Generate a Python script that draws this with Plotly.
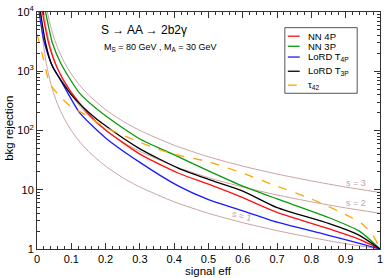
import plotly.graph_objects as go

# ---------------- data ----------------
nn4p_eff = [0.0156, 0.035, 0.06, 0.095, 0.15, 0.2, 0.3, 0.413, 0.5, 0.6, 0.7, 0.85, 0.94, 1.0]
nn4p_rej = [10000, 2800, 1100, 487, 190, 102, 40, 19, 12.4, 7.35, 4.15, 2.2, 1.45, 1.0]

nn3p_eff = [0.025, 0.045, 0.07, 0.124, 0.2, 0.3, 0.393, 0.5, 0.6, 0.7, 0.85, 0.94, 1.0]
nn3p_rej = [10000, 3000, 1340, 428, 177, 72, 40.6, 20.8, 11.5, 7.0, 3.4, 2.0, 1.0]

lord4p_eff = [0.006, 0.02, 0.042, 0.074, 0.124, 0.2, 0.3, 0.413, 0.5, 0.6, 0.7, 0.85, 0.94, 1.0]
lord4p_rej = [10000, 3300, 1340, 626, 200, 75, 29, 11.5, 6.8, 4.4, 2.83, 1.7, 1.25, 1.0]

lord3p_eff = [0.01, 0.025, 0.045, 0.103, 0.152, 0.2, 0.3, 0.413, 0.5, 0.6, 0.7, 0.85, 0.94, 1.0]
lord3p_rej = [10000, 3000, 1200, 385, 200, 120, 49, 23, 15, 9.5, 5.0, 2.7, 1.7, 1.0]

tau42_eff = [0.0, 0.015, 0.037, 0.066, 0.103, 0.124, 0.2, 0.3, 0.393, 0.5, 0.6, 0.7, 0.8, 0.9, 0.95, 0.98, 1.0]
tau42_rej = [4200, 1970, 626, 380, 242, 210, 113, 63, 40.6, 29.7, 19, 11.5, 7.0, 3.8, 2.6, 1.7, 1.0]

s1_eff = [0.01, 0.012, 0.015, 0.02, 0.025, 0.03, 0.04, 0.05, 0.06, 0.08, 0.1, 0.12, 0.15, 0.2, 0.25, 0.3, 0.4, 0.5, 0.6, 0.7, 0.8, 0.9, 1.0]
s1_rej = [10000, 6944, 4444, 2500, 1600, 1111, 625, 400, 278, 156, 100, 69.4, 44.4, 25, 16, 11.1, 6.25, 4, 2.78, 2.04, 1.56, 1.23, 1.0]

s2_eff = [0.02, 0.025, 0.03, 0.04, 0.05, 0.06, 0.08, 0.1, 0.12, 0.15, 0.2, 0.25, 0.3, 0.4, 0.5, 0.6, 0.7, 0.8, 0.9, 1.0]
s2_rej = [10000, 6400, 4444, 2500, 1600, 1111, 625, 400, 278, 178, 100, 64, 44.4, 25, 16, 11.1, 8.16, 6.25, 4.94, 4.0]

s3_eff = [0.03, 0.04, 0.05, 0.06, 0.08, 0.1, 0.12, 0.15, 0.2, 0.25, 0.3, 0.4, 0.5, 0.6, 0.7, 0.8, 0.9, 1.0]
s3_rej = [10000, 5625, 3600, 2500, 1406, 900, 625, 400, 225, 144, 100, 56.25, 36, 25, 18.4, 14.1, 11.1, 9.0]

x_ticks = [0, 0.1, 0.2, 0.3, 0.4, 0.5, 0.6, 0.7, 0.8, 0.9, 1]
x_labels = ["0", "0.1", "0.2", "0.3", "0.4", "0.5", "0.6", "0.7", "0.8", "0.9", "1"]
y_ticks = [1, 10, 100, 1000, 10000]
y_labels = ["1", "10", "10<sup>2</sup>", "10<sup>3</sup>", "10<sup>4</sup>"]

legend_names = ["NN 4P", "NN 3P", "LoRD T<sub>4P</sub>", "LoRD T<sub>3P</sub>", "τ<sub>42</sub>"]
# ---------------------------------------------------------------

FONT = "Liberation Sans, Arial, sans-serif"
BROWN = "#c9a3a3"
RED = "#ff1010"
GREEN = "#0a9a0a"
BLUE = "#1a1aff"
BLACK = "#000000"
ORANGE = "#ffa500"

fig = go.Figure()

for ex, ry in [(s1_eff, s1_rej), (s2_eff, s2_rej), (s3_eff, s3_rej)]:
    fig.add_trace(go.Scatter(x=ex, y=ry, mode="lines", line=dict(color=BROWN, width=1, shape="spline", smoothing=0.6),
                             showlegend=False, hoverinfo="skip"))

series = [
    (nn4p_eff, nn4p_rej, RED, "solid"),
    (nn3p_eff, nn3p_rej, GREEN, "solid"),
    (lord4p_eff, lord4p_rej, BLUE, "solid"),
    (lord3p_eff, lord3p_rej, BLACK, "solid"),
    (tau42_eff, tau42_rej, ORANGE, "dash"),
]
for (ex, ry, col, dash), name in zip(series, legend_names):
    fig.add_trace(go.Scatter(x=ex, y=ry, mode="lines", name=name,
                             line=dict(color=col, width=1.3, dash=dash, shape="spline", smoothing=0.6),
                             showlegend=False))

# plot-area pixel helpers (plot area: x 37..383, y 7..249)
def px(xp):
    return (xp - 37) / 346.0

def py(yp):
    return (249 - yp) / 242.0

# manual legend
shapes = [dict(type="rect", xref="paper", yref="paper", x0=px(287), x1=px(360), y0=py(90), y1=py(23),
               line=dict(color="#555555", width=1), fillcolor="white", layer="above")]
annotations = []
leg_y = [31.7, 42.0, 53.0, 67.5, 81.7]
for (ex, ry, col, dash), name, yy in zip(series, legend_names, leg_y):
    shapes.append(dict(type="line", xref="paper", yref="paper", x0=px(290), x1=px(302), y0=py(yy), y1=py(yy),
                       line=dict(color=col, width=1.3, dash="dash" if dash == "dash" else "solid"), layer="above"))
    annotations.append(dict(xref="paper", yref="paper", x=px(308), y=py(yy), text=name, showarrow=False,
                            xanchor="left", yanchor="middle", font=dict(family=FONT, size=9.5, color="black")))

annotations += [
    dict(xref="paper", yref="paper", x=px(100), y=py(25), text="S → AA → 2b2γ", showarrow=False,
         xanchor="left", yanchor="middle", font=dict(family=FONT, size=12, color="black")),
    dict(xref="paper", yref="paper", x=px(103), y=py(43), text="M<sub>S</sub> = 80 GeV , M<sub>A</sub> = 30 GeV",
         showarrow=False, xanchor="left", yanchor="middle", font=dict(family=FONT, size=9, color="black")),
    dict(xref="paper", yref="paper", x=0.5, y=py(271), text="signal eff", showarrow=False,
         xanchor="center", yanchor="middle", font=dict(family=FONT, size=11.5, color="black")),
    dict(xref="paper", yref="paper", x=px(8), y=py(126), text="bkg rejection", showarrow=False, textangle=-90,
         xanchor="center", yanchor="middle", font=dict(family=FONT, size=11.5, color="black")),
    dict(xref="paper", yref="paper", x=px(359), y=py(182), text="s = 3", showarrow=False,
         xanchor="center", yanchor="middle", font=dict(family=FONT, size=9, color=BROWN)),
    dict(xref="paper", yref="paper", x=px(359), y=py(202), text="s = 2", showarrow=False,
         xanchor="center", yanchor="middle", font=dict(family=FONT, size=9, color=BROWN)),
    dict(xref="paper", yref="paper", x=px(244), y=py(215), text="s = 1", showarrow=False, textangle=14,
         xanchor="center", yanchor="middle", font=dict(family=FONT, size=9, color=BROWN)),
]

fig.update_layout(
    width=387, height=278,
    margin=dict(l=37, r=4, t=7, b=29),
    paper_bgcolor="white", plot_bgcolor="white",
    font=dict(family=FONT, size=11, color="black"),
    showlegend=False,
    shapes=shapes, annotations=annotations,
)
fig.update_xaxes(range=[0, 1.0001], tickvals=x_ticks, ticktext=x_labels, ticks="inside", ticklen=6,
                 tickcolor="#333333", showline=True, linecolor="#333333", linewidth=1, mirror="ticks",
                 showgrid=False, zeroline=False, tickfont=dict(size=11), ticklabeloverflow="allow",
                 minor=dict(ticks="inside", ticklen=3, dtick=0.02, tickcolor="#333333", showgrid=False))
fig.update_yaxes(type="log", range=[-0.00001, 4.0001], tickvals=y_ticks, ticktext=y_labels, ticks="inside", ticklen=6,
                 tickcolor="#333333", showline=True, linecolor="#333333", linewidth=1, mirror="ticks",
                 showgrid=False, zeroline=False, tickfont=dict(size=11), ticklabeloverflow="allow",
                 minor=dict(ticks="inside", ticklen=3, tickvals=[v * m for v in [1, 10, 100, 1000] for m in range(2, 10)],
                            tickcolor="#333333", showgrid=False))

fig.write_html("out.html", config={"displayModeBar": False},
               post_script="document.body.style.margin='0';document.body.style.overflow='hidden';")
